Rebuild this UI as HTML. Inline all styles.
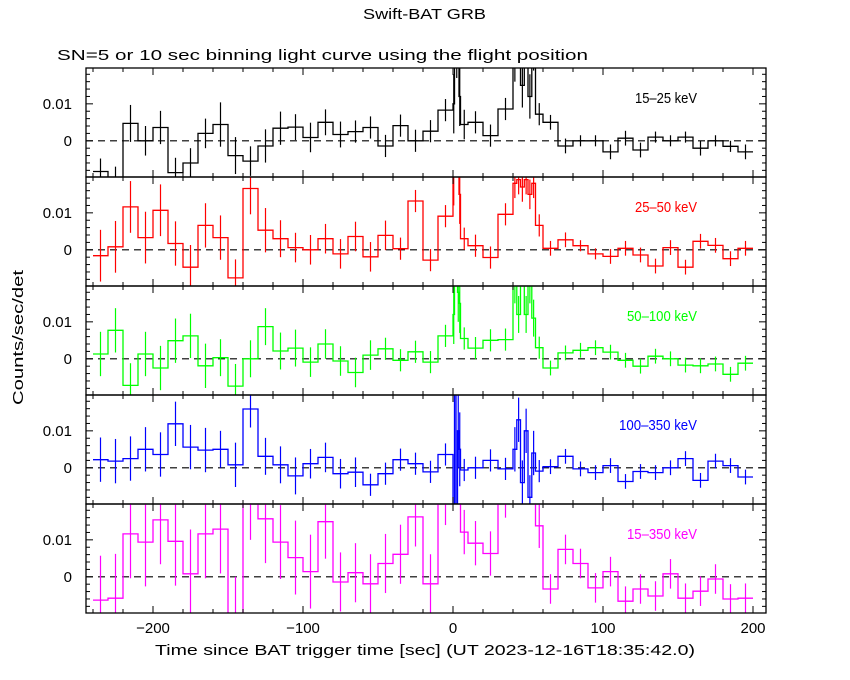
<!DOCTYPE html>
<html><head><meta charset="utf-8"><style>
html,body{margin:0;padding:0;background:#fff}
svg{display:block}
text{font-family:"Liberation Sans",sans-serif;}
</style></head><body>
<svg id="chart" width="850" height="680" viewBox="0 0 850 680" xmlns="http://www.w3.org/2000/svg">
<text x="363" y="19" font-size="15" textLength="123" lengthAdjust="spacingAndGlyphs">Swift-BAT GRB</text>
<text x="57" y="60" font-size="15" textLength="531" lengthAdjust="spacingAndGlyphs">SN=5 or 10 sec binning light curve using the flight position</text>
<text transform="translate(23,405) rotate(-90)" font-size="15" textLength="135" lengthAdjust="spacingAndGlyphs">Counts/sec/det</text>
<text x="155" y="655" font-size="15" textLength="540" lengthAdjust="spacingAndGlyphs">Time since BAT trigger time [sec] (UT 2023-12-16T18:35:42.0)</text>
<g id="panels"></g>
</svg>
<script>
// shared bin starts and widths (sec)
const binStart = [-240,-230,-220,-210,-200,-190,-180,-170,-160,-150,-140,-130,-120,-110,-100,-90,-80,-70,-60,-50,-40,-30,-20,-10,
  0,1,2,3,4,5,10,20,30,40,42.5,45,47.5,50,52.5,55,
  60,70,80,90,100,110,120,130,140,150,160,170,180,190];
const binWidth = [10,10,10,10,10,10,10,10,10,10,10,10,10,10,10,10,10,10,10,10,10,10,10,10,
  1,1,1,1,1,5,10,10,10,2.5,2.5,2.5,2.5,2.5,2.5,5,
  10,10,10,10,10,10,10,10,10,10,10,10,10,10];
const bands = ["15\u201325 keV","25\u201350 keV","50\u2013100 keV","100\u2013350 keV","15\u2013350 keV"];
const bandLen = [62,62,70,78,70];
const colors = ["#000000","#ff0000","#00ff00","#0000ff","#ff00ff"];
const rate1525 = [-0.0083,-0.012,0.0047,0,0.0036,-0.0086,-0.006,0.002,0.0044,-0.004,-0.0055,-0.0014,0.0034,0.0037,0.0009,0.005,0.0017,0.0025,0.0036,-0.0014,0.0041,0,0.0026,0.0083,
  0.01,0.03,0.025,0.03,0.012,0.0044,0.005,0.0014,0.0086,0.022,0.03,0.015,0.03,0.012,0.025,0.0072,
  0.005,-0.0014,0,0,-0.003,0.0007,-0.0025,0.001,0,0.001,-0.002,0,-0.0015,-0.003];
const rate2550 = [-0.0016,0.0008,0.0116,0.0033,0.0107,0.0017,-0.0047,0.0066,0.0033,-0.0076,0.0166,0.0053,0.003,0.0006,0,0.003,-0.0011,0.0036,-0.0019,0.0039,0.0003,0.0132,-0.0028,0.0091,
  0.02,0.03,0.03,0.03,0.015,0.003,0.0011,-0.0021,0.0096,0.018,0.019,0.017,0.019,0.015,0.018,0.0066,
  0.0004,0.0027,0.0011,-0.0011,-0.0018,0.0004,-0.0014,-0.0044,0.0006,-0.0047,0.0023,0.0012,-0.0024,0.0004];
const rate50100 = [0.0013,0.0077,-0.0072,0.0013,-0.0025,0.0049,0.0062,-0.0019,0.0003,-0.0074,0,0.0087,0.0021,0.0029,-0.0009,0.004,-0.0006,-0.0037,0.001,0.0027,-0.0004,0.0019,-0.0009,0.0062,
  0.012,0.03,0.03,0.018,0.015,0.0055,0.0029,0.005,0.0052,0.02,0.012,0.03,0.012,0.02,0.011,0.003,
  -0.0025,0.0016,0.0023,0.003,0.0018,-0.0004,-0.002,0.0007,0,-0.0017,-0.0019,-0.0014,-0.0042,-0.0012];
const rate100350 = [0.0022,0.0018,0.0025,0.005,0.0036,0.0119,0.0056,0.0048,0.005,0.0008,0.0159,0.0031,0.0008,-0.0022,0.0011,0.0028,-0.0016,-0.0012,-0.0046,-0.0016,0.0022,0.0011,-0.0011,0.0036,
  -0.03,0.03,-0.02,0.01,0.005,-0.0006,0,0.002,-0.0003,0.005,0.013,-0.004,0.01,-0.008,0.004,-0.0009,
  0.0003,0.0031,-0.0003,-0.0013,0.0006,-0.0037,-0.001,-0.0013,0,0.0025,-0.0034,0.0018,0.0006,-0.0025];
const rate15350 = [-0.0063,-0.0058,0.0116,0.0094,0.0154,0.0096,0.0008,0.0116,0.0129,-0.012,0.022,0.0157,0.0094,0.0052,0.0014,0.0149,-0.0014,0.0011,-0.0019,0.0036,0.0061,0.0162,-0.0019,0.022,
  0.03,0.03,0.03,0.03,0.03,0.0121,0.0091,0.0063,0.022,0.03,0.03,0.03,0.03,0.03,0.03,0.0138,
  -0.0033,0.0074,0.0036,-0.003,0.0014,-0.0066,-0.0033,-0.0052,0.0008,-0.0058,-0.0039,-0.0006,-0.006,-0.0058];
const err1525 = [0.0035,0.005,0.005,0.004,0.0045,0.004,0.004,0.004,0.006,0.005,0.004,0.0045,0.0045,0.0035,0.004,0.0035,0.0035,0.003,0.003,0.003,0.003,0.003,0.003,0.003,
  0.008,0.008,0.008,0.008,0.008,0.004,0.003,0.003,0.003,0.006,0.006,0.006,0.006,0.006,0.006,0.003,
  0.002,0.002,0.0015,0.0015,0.002,0.002,0.002,0.0015,0.0015,0.0015,0.002,0.0015,0.0015,0.002];
const err2550 = [0.007,0.007,0.007,0.007,0.007,0.006,0.006,0.006,0.006,0.005,0.007,0.006,0.005,0.004,0.004,0.004,0.004,0.004,0.004,0.004,0.003,0.003,0.003,0.003,
  0.008,0.008,0.008,0.008,0.008,0.003,0.003,0.003,0.003,0.004,0.004,0.004,0.004,0.004,0.004,0.003,
  0.002,0.002,0.0015,0.0015,0.002,0.002,0.002,0.002,0.002,0.002,0.002,0.002,0.002,0.002];
const err50100 = [0.006,0.006,0.006,0.006,0.006,0.006,0.006,0.006,0.005,0.006,0.005,0.005,0.005,0.005,0.004,0.004,0.004,0.004,0.004,0.003,0.003,0.003,0.003,0.003,
  0.008,0.008,0.008,0.008,0.008,0.003,0.003,0.003,0.003,0.005,0.005,0.005,0.005,0.005,0.005,0.003,
  0.002,0.002,0.002,0.002,0.002,0.002,0.002,0.002,0.002,0.002,0.002,0.002,0.002,0.002];
const err100350 = [0.006,0.006,0.006,0.006,0.006,0.006,0.006,0.006,0.005,0.006,0.005,0.005,0.005,0.005,0.004,0.004,0.004,0.004,0.003,0.003,0.003,0.003,0.003,0.003,
  0.01,0.01,0.01,0.01,0.01,0.003,0.003,0.003,0.003,0.006,0.006,0.006,0.006,0.006,0.006,0.003,
  0.002,0.002,0.002,0.002,0.002,0.002,0.002,0.002,0.002,0.002,0.002,0.002,0.002,0.002];
const err15350 = [0.012,0.012,0.012,0.012,0.012,0.012,0.012,0.012,0.012,0.012,0.012,0.012,0.01,0.01,0.01,0.01,0.008,0.008,0.008,0.008,0.008,0.008,0.008,0.008,
  0.01,0.01,0.01,0.01,0.01,0.006,0.006,0.006,0.006,0.008,0.008,0.008,0.008,0.008,0.008,0.006,
  0.004,0.004,0.004,0.004,0.004,0.004,0.004,0.004,0.004,0.004,0.004,0.004,0.004,0.004];
const xTicks = [-200,-100,0,100,200];
const xTickLabels = ["\u2212200","\u2212100","0","100","200"];
const yTicks = [0,0.01];
const yTickLabels = ["0","0.01"];

const rates = [rate1525,rate2550,rate50100,rate100350,rate15350];
const errs = [err1525,err2550,err50100,err100350,err15350];
const NS="http://www.w3.org/2000/svg";
const L=86,R=766,T0=68,PH=109;
const YMAX=0.0197,YMIN=-0.0098;
function xs(t){return 453+1.5*t;}
function ys(v,k){const top=T0+PH*k;return top+(YMAX-v)/(YMAX-YMIN)*PH;}
function mk(tag,attrs,parent){const e=document.createElementNS(NS,tag);for(const a in attrs)e.setAttribute(a,attrs[a]);parent.appendChild(e);return e;}
const root=document.getElementById('panels');
const defs=mk('defs',{},root);
for(let k=0;k<5;k++){
  const top=T0+PH*k,bot=top+PH;
  const cp=mk('clipPath',{id:'cp'+k},defs);
  mk('rect',{x:L,y:top,width:R-L,height:PH},cp);
  const g=mk('g',{},root);
  
  
  const dg=mk('g',{'clip-path':'url(#cp'+k+')'},g);
  const z=mk('line',{x1:L,x2:R,y1:ys(0,k),y2:ys(0,k),stroke:'#000','stroke-width':1.2,'stroke-dasharray':'7,5'},dg);
  
  
  let d='';const r=rates[k],e=errs[k];
  for(let i=0;i<binStart.length;i++){
    const x1=xs(binStart[i]),x2=xs(binStart[i]+binWidth[i]),y=ys(r[i],k);
    d+=(i===0?'M':'L')+x1.toFixed(1)+','+y.toFixed(1)+'L'+x2.toFixed(1)+','+y.toFixed(1);
  }
  const p=mk('path',{d:d,fill:'none',stroke:colors[k],'stroke-width':1.3},dg);
  
  
  for(let i=0;i<binStart.length;i++){
    const xc=xs(binStart[i]+binWidth[i]/2);
    const eb=mk('line',{x1:xc,x2:xc,y1:ys(r[i]+e[i],k),y2:ys(r[i]-e[i],k),stroke:colors[k],'stroke-width':1.2},dg);
    
    
  }
  const fr=mk('rect',{x:L,y:top,width:R-L,height:PH,fill:'none',stroke:'#000','stroke-width':1.3},g);
  
  
  for(let t=-240;t<=200;t+=20){
    const maj=xTicks.indexOf(t)>=0,len=maj?7:4,x=xs(t);
    mk('line',{x1:x,x2:x,y1:top,y2:top+len,stroke:'#000'},g);
    mk('line',{x1:x,x2:x,y1:bot,y2:bot-len,stroke:'#000'},g);
  }
  for(let v=-0.008;v<=0.0195;v+=0.002){
    const vv=Math.round(v*1000)/1000;const maj=yTicks.indexOf(vv)>=0,len=maj?7:4,y=ys(vv,k);
    mk('line',{x1:L,x2:L+len,y1:y,y2:y,stroke:'#000'},g);
    mk('line',{x1:R,x2:R-len,y1:y,y2:y,stroke:'#000'},g);
  }
  for(let j=0;j<yTicks.length;j++){
    const tl=mk('text',{x:L-14,y:ys(yTicks[j],k)+5,'font-size':15,'text-anchor':'end'},g);
    tl.textContent=yTickLabels[j];
    
    
  }
  const bl=mk('text',{x:697-bandLen[k],y:top+35,'font-size':15,fill:colors[k],textLength:bandLen[k],lengthAdjust:'spacingAndGlyphs'},g);
  bl.textContent=bands[k];
  
  
}
for(let j=0;j<xTicks.length;j++){
  const tl=mk('text',{x:xs(xTicks[j]),y:633,'font-size':15,'text-anchor':'middle'},root);
  tl.textContent=xTickLabels[j];
  
  
}
</script>
</body></html>
